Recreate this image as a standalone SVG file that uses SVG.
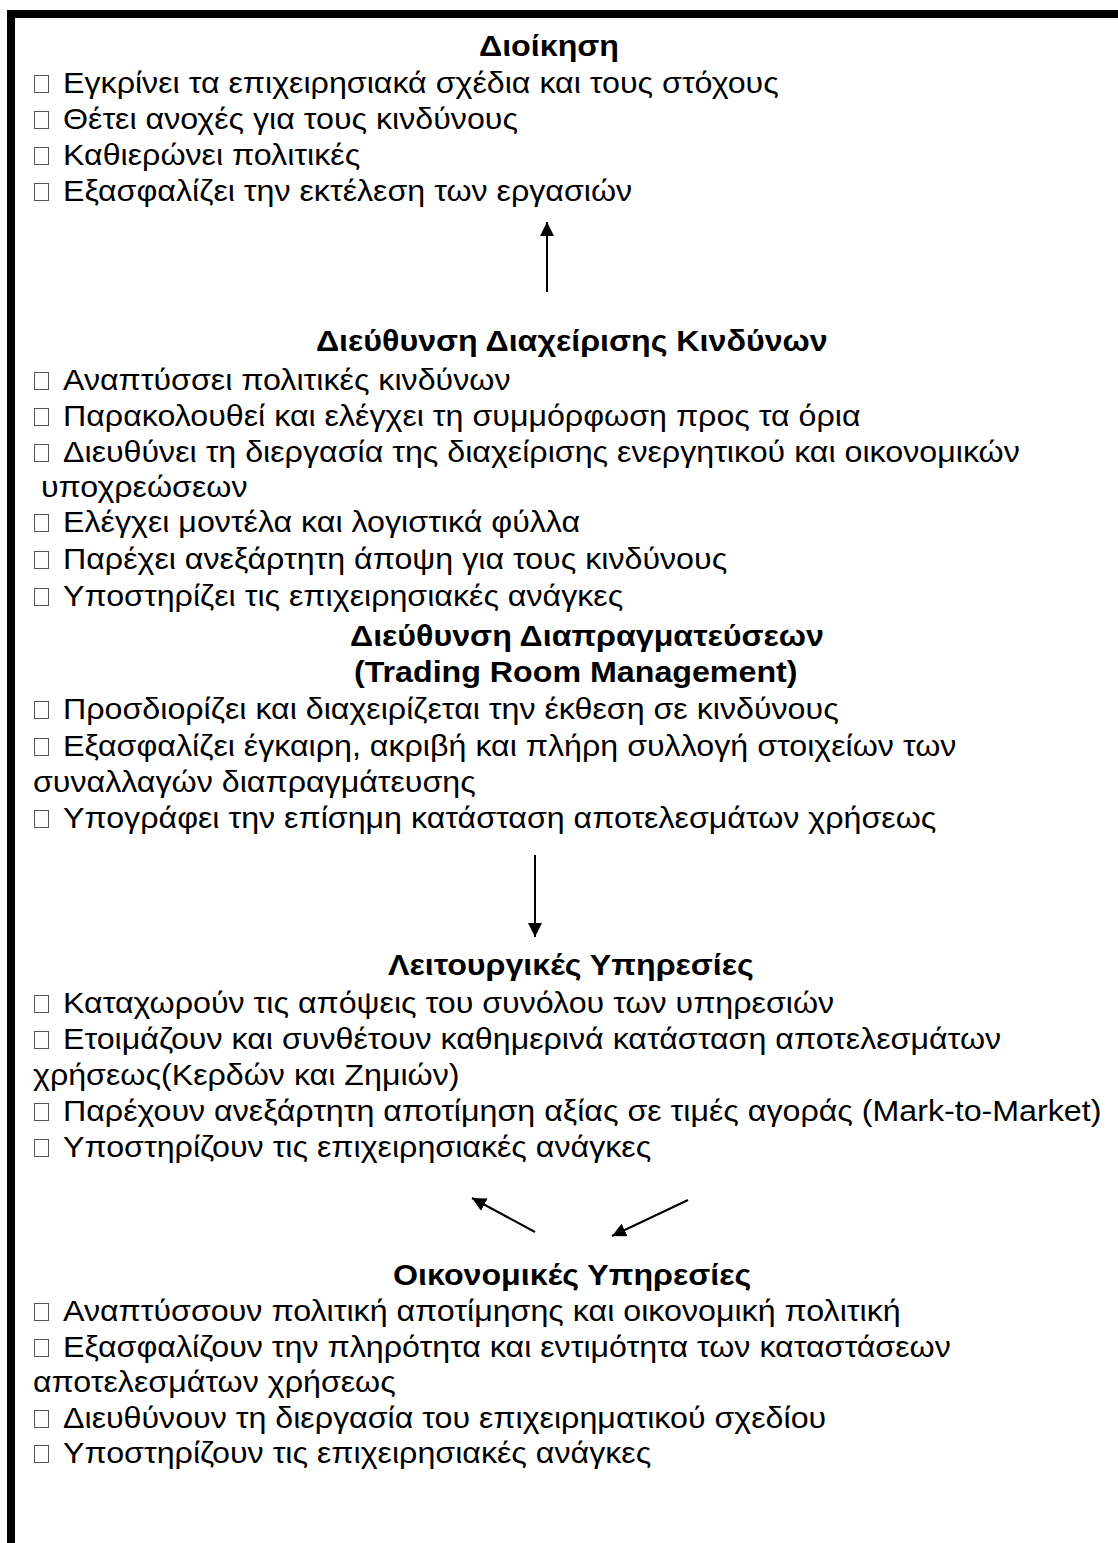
<svg xmlns="http://www.w3.org/2000/svg" width="1118" height="1543" viewBox="0 0 1118 1543">
<style>
.t{font-family:"Liberation Sans",Arial,sans-serif;font-size:30px;fill:#000}
.h{font-family:"Liberation Sans",Arial,sans-serif;font-size:30px;font-weight:bold;fill:#000}
.b{fill:#fff;stroke:#555;stroke-width:1}
.c{stroke:#000;stroke-width:2;fill:none}
</style>
<defs>
<marker id="ah" markerWidth="14" markerHeight="14" viewBox="0 0 14 14" refX="14" refY="7" orient="auto" markerUnits="userSpaceOnUse">
<path d="M0,0 L14,7 L0,14 Z" fill="#000"/>
</marker>
<symbol id="bx" overflow="visible"><rect class="b" x="0.5" y="0.5" width="14" height="17"/></symbol>
</defs>
<rect width="1118" height="1543" fill="#fff"/>
<path d="M11,1543 V14 H1118" fill="none" stroke="#000" stroke-width="8"/>

<g id="dioikisi">
<use href="#bx" x="34" y="75"/><use href="#bx" x="34" y="111"/><use href="#bx" x="34" y="147"/><use href="#bx" x="34" y="183"/>
<g transform="scale(1.0733,1)">
<text class="h" x="446.3" y="56">Διοίκηση</text>
<text class="t" x="58.7" y="93">Εγκρίνει τα επιχειρησιακά σχέδια και τους στόχους</text>
<text class="t" x="58.7" y="129">Θέτει ανοχές για τους κινδύνους</text>
<text class="t" x="58.7" y="165">Καθιερώνει πολιτικές</text>
<text class="t" x="58.7" y="201">Εξασφαλίζει την εκτέλεση των εργασιών</text>
</g>
</g>

<g id="risk">
<use href="#bx" x="34" y="372"/><use href="#bx" x="34" y="408"/><use href="#bx" x="34" y="444"/><use href="#bx" x="34" y="514"/><use href="#bx" x="34" y="551"/><use href="#bx" x="34" y="588"/>
<g transform="scale(1.0733,1)">
<text class="h" x="294.4" y="351">Διεύθυνση Διαχείρισης Κινδύνων</text>
<text class="t" x="58.7" y="390">Αναπτύσσει πολιτικές κινδύνων</text>
<text class="t" x="58.7" y="426">Παρακολουθεί και ελέγχει τη συμμόρφωση προς τα όρια</text>
<text class="t" x="58.7" y="462">Διευθύνει τη διεργασία της διαχείρισης ενεργητικού και οικονομικών</text>
<text class="t" x="38.2" y="497">υποχρεώσεων</text>
<text class="t" x="58.7" y="532">Ελέγχει μοντέλα και λογιστικά φύλλα</text>
<text class="t" x="58.7" y="569">Παρέχει ανεξάρτητη άποψη για τους κινδύνους</text>
<text class="t" x="58.7" y="606">Υποστηρίζει τις επιχειρησιακές ανάγκες</text>
</g>
</g>

<g id="trading">
<use href="#bx" x="34" y="701"/><use href="#bx" x="34" y="738"/><use href="#bx" x="34" y="810"/>
<g transform="scale(1.0733,1)">
<text class="h" x="326.1" y="646">Διεύθυνση Διαπραγματεύσεων</text>
<text class="h" x="329.8" y="682">(Trading Room Management)</text>
<text class="t" x="58.7" y="719">Προσδιορίζει και διαχειρίζεται την έκθεση σε κινδύνους</text>
<text class="t" x="58.7" y="756">Εξασφαλίζει έγκαιρη, ακριβή και πλήρη συλλογή στοιχείων των</text>
<text class="t" x="30.75" y="792">συναλλαγών διαπραγμάτευσης</text>
<text class="t" x="58.7" y="828">Υπογράφει την επίσημη κατάσταση αποτελεσμάτων χρήσεως</text>
</g>
</g>

<g id="operations">
<use href="#bx" x="34" y="995"/><use href="#bx" x="34" y="1031"/><use href="#bx" x="34" y="1103"/><use href="#bx" x="34" y="1139"/>
<g transform="scale(1.0733,1)">
<text class="h" x="361.5" y="975">Λειτουργικές Υπηρεσίες</text>
<text class="t" x="58.7" y="1013">Καταχωρούν τις απόψεις του συνόλου των υπηρεσιών</text>
<text class="t" x="58.7" y="1049">Ετοιμάζουν και συνθέτουν καθημερινά κατάσταση αποτελεσμάτων</text>
<text class="t" x="30.75" y="1085">χρήσεως(Κερδών και Ζημιών)</text>
<text class="t" x="58.7" y="1121">Παρέχουν ανεξάρτητη αποτίμηση αξίας σε τιμές αγοράς (Mark-to-Market)</text>
<text class="t" x="58.7" y="1157">Υποστηρίζουν τις επιχειρησιακές ανάγκες</text>
</g>
</g>

<g id="finance">
<use href="#bx" x="34" y="1303"/><use href="#bx" x="34" y="1339"/><use href="#bx" x="34" y="1410"/><use href="#bx" x="34" y="1445"/>
<g transform="scale(1.0733,1)">
<text class="h" x="366.2" y="1285">Οικονομικές Υπηρεσίες</text>
<text class="t" x="58.7" y="1321">Αναπτύσσουν πολιτική αποτίμησης και οικονομική πολιτική</text>
<text class="t" x="58.7" y="1357">Εξασφαλίζουν την πληρότητα και εντιμότητα των καταστάσεων</text>
<text class="t" x="30.75" y="1392">αποτελεσμάτων χρήσεως</text>
<text class="t" x="58.7" y="1428">Διευθύνουν τη διεργασία του επιχειρηματικού σχεδίου</text>
<text class="t" x="58.7" y="1463">Υποστηρίζουν τις επιχειρησιακές ανάγκες</text>
</g>
</g>

<g id="connectors">
<line class="c" x1="547" y1="292" x2="547" y2="222" marker-end="url(#ah)"/>
<line class="c" x1="535" y1="855" x2="535" y2="937" marker-end="url(#ah)"/>
<line class="c" x1="535" y1="1232" x2="472" y2="1198" marker-end="url(#ah)"/>
<line class="c" x1="688" y1="1200" x2="612" y2="1236" marker-end="url(#ah)"/>
</g>
</svg>
